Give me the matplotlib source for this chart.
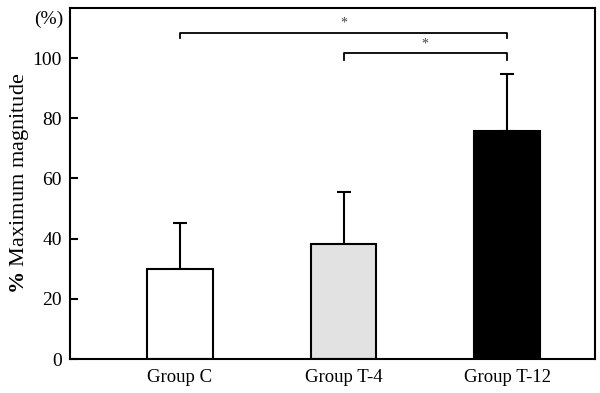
import matplotlib
matplotlib.use("Agg")
import matplotlib.pyplot as plt

plt.rcParams['font.family'] = ['Liberation Serif', 'DejaVu Serif']
plt.rcParams['mathtext.fontset'] = 'custom'
plt.rcParams['mathtext.rm'] = 'Liberation Serif'
plt.rcParams['mathtext.bf'] = 'Liberation Serif:bold'

groups = ["Group C", "Group T-4", "Group T-12"]
means = [29.8, 38.2, 75.8]
sds = [15.4, 17.2, 18.9]
colors = ["white", "#e2e2e2", "black"]

# significance brackets: (from, to, height, drop)
brackets = [(0, 2, 108.3, 1.8), (1, 2, 101.7, 2.5)]
stars_y = [111.5, 104.5]

fig = plt.figure(figsize=(6.0, 3.93), dpi=100)
ax = fig.add_axes([0.1167, 0.0865, 0.875, 0.893])

x = list(range(len(groups)))
ax.bar(x, means, width=0.40, color=colors, edgecolor="black", linewidth=1.5, zorder=2)
ax.errorbar(x, means, yerr=[[0] * len(sds), sds], fmt="none", ecolor="black",
            elinewidth=1.5, capsize=5, capthick=1.5, zorder=1)

for (a, b, h, d), sy in zip(brackets, stars_y):
    ax.plot([a, a, b, b], [h - d, h, h, h - d], color="black", linewidth=1.3)
    ax.text((a + b) / 2.0, sy, "*", ha="center", va="center", fontsize=10, color="#444444")

ax.set_xlim(-0.673, 2.538)
ax.set_ylim(0, 116.6)
ax.set_yticks([0, 20, 40, 60, 80, 100])
ax.set_xticks(x)
ax.set_xticklabels(groups, fontsize=13.5)
ax.tick_params(axis="y", direction="in", length=6, width=1.5, labelsize=14, pad=6)
ax.tick_params(axis="x", length=0, pad=7)
for s in ax.spines.values():
    s.set_linewidth(1.5)

ax.text(-0.013, 113, "(%)", transform=ax.get_yaxis_transform(), ha="right", va="center", fontsize=14)
ax.set_ylabel(r"$\mathbf{\%}$ Maximum magnitude", fontsize=16)
ax.yaxis.set_label_coords(-0.074, 0.5)

fig.savefig("out.png", dpi=100)
